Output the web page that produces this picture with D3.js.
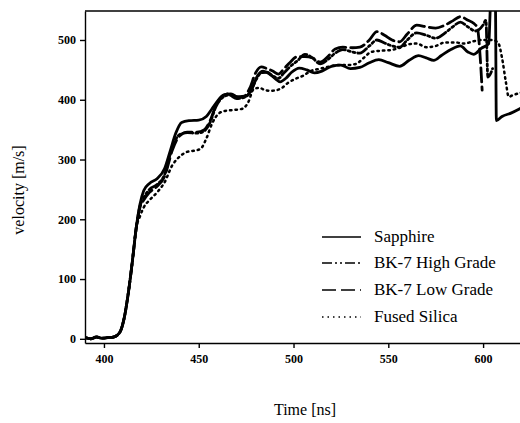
<!DOCTYPE html>
<html>
<head>
<meta charset="utf-8">
<script src="https://cdn.jsdelivr.net/npm/d3@7"></script>
<style>
  body { margin: 0; background: #fff; }
  text { font-family: "Liberation Serif", "Times New Roman", serif; fill: #000; }
</style>
</head>
<body>
<div id="viz"></div>
<script>
// time [ns] ticks and velocity [m/s] ticks
const xTicks = [400, 450, 500, 550, 600];
const yTicks = [0, 100, 200, 300, 400, 500];

const seriesNames = ['Sapphire', 'BK-7 High Grade', 'BK-7 Low Grade', 'Fused Silica'];

// shared start of every shot (before the curves split)
const rise = [[390, 2], [393, 0], [396, 3], [399, 1], [402, 2], [405, 3], [407, 6], [409, 15],
  [411, 40], [413, 80], [415, 130], [417, 185]];

const sapphire = [[419, 225], [421, 248], [424, 260], [428, 268], [432, 285], [435, 315], [438, 345],
  [441, 362], [445, 365], [450, 366], [454, 372], [457, 385], [460, 398], [463, 408], [467, 410],
  [471, 404], [475, 406], [478, 418], [481, 440], [484, 448], [487, 444], [490, 436], [493, 430],
  [496, 436], [499, 446], [503, 453], [507, 450], [511, 445], [515, 448], [520, 456], [525, 458],
  [530, 452], [535, 454], [540, 462], [545, 467], [550, 462], [556, 456], [561, 466], [566, 474],
  [570, 470], [574, 466], [578, 474], [583, 484], [588, 490], [592, 480], [595, 476], [599, 486],
  [603, 494], [604, 560], [606.5, 560], [607, 365], [610, 372], [615, 378], [620, 386]];

const bk7High = [[419, 222], [421, 236], [424, 250], [428, 258], [432, 275], [436, 320], [440, 342],
  [444, 345], [449, 344], [453, 348], [456, 362], [459, 388], [462, 402], [466, 408], [470, 402],
  [474, 404], [477, 412], [480, 432], [483, 445], [486, 446], [489, 440], [492, 436], [495, 445],
  [498, 455], [502, 465], [506, 476], [510, 470], [514, 460], [518, 467], [522, 478], [526, 484],
  [531, 480], [535, 478], [540, 490], [544, 500], [548, 495], [552, 490], [556, 488], [560, 500],
  [565, 512], [570, 508], [575, 503], [580, 512], [584, 522], [588, 530], [592, 522], [596, 515],
  [600, 525], [601.5, 533], [602.5, 438], [605, 452]];

const bk7Low = [[419, 220], [421, 232], [424, 245], [428, 255], [432, 272], [436, 315], [440, 340],
  [444, 346], [449, 346], [453, 350], [456, 365], [459, 390], [462, 405], [466, 410], [470, 405],
  [474, 406], [477, 420], [480, 445], [483, 455], [486, 452], [489, 448], [492, 443], [495, 452],
  [498, 462], [502, 472], [506, 472], [510, 470], [514, 463], [518, 472], [522, 485], [526, 488],
  [531, 487], [535, 488], [540, 500], [544, 514], [548, 508], [552, 500], [556, 497], [560, 510],
  [565, 525], [570, 522], [575, 520], [580, 525], [584, 532], [588, 539], [592, 533], [595, 528],
  [597, 520], [598.5, 470], [599.5, 416]];

const fusedSilica = [[419, 205], [421, 220], [424, 232], [428, 245], [432, 262], [436, 290], [440, 305],
  [444, 313], [448, 315], [451, 318], [454, 335], [457, 360], [461, 378], [465, 382], [469, 383],
  [473, 385], [476, 395], [479, 418], [482, 420], [485, 416], [488, 415], [491, 416], [494, 420],
  [497, 428], [501, 435], [505, 440], [509, 448], [514, 452], [518, 455], [523, 458], [528, 458],
  [533, 460], [537, 470], [541, 480], [546, 482], [551, 483], [556, 487], [561, 493], [565, 494],
  [570, 488], [575, 490], [580, 496], [585, 496], [590, 494], [595, 498], [600, 500], [605, 500],
  [608, 495], [610, 470], [612, 430], [613.5, 405], [616, 408], [620, 412]];

const w = 520;
const h = 423;
const svg = d3.select('#viz').
append('svg').
attr('width', w).
attr('height', h);

const xScale = d3.scaleLinear().
domain([390, 620]).
range([85, 521]);

const yScale = d3.scaleLinear().
domain([-7, 548.5]).
range([343, 11]);

svg.append('clipPath').
attr('id', 'plot').
append('rect').
attr('x', 85).
attr('y', 11).
attr('width', 436).
attr('height', 332);

const line = d3.line().
x(d => xScale(d[0])).
y(d => yScale(d[1])).
curve(d3.curveMonotoneX);

const styles = [
  { data: rise.concat(sapphire), dash: null, width: 2.8 },
  { data: rise.concat(bk7High), dash: '10,3,2,3,2,3', width: 2.8 },
  { data: rise.concat(bk7Low), dash: '14,5', width: 2.8 },
  { data: rise.concat(fusedSilica), dash: '1.5,4', width: 2.5 }
];

svg.append('g').
attr('clip-path', 'url(#plot)').
selectAll('path').
data(styles.slice().reverse()).
enter().
append('path').
attr('d', d => line(d.data)).
attr('fill', 'none').
attr('stroke', '#000').
attr('stroke-width', d => d.width).
attr('stroke-linecap', 'round').
attr('stroke-dasharray', d => d.dash);

// axes
const xAxis = d3.axisBottom(xScale).
tickValues(xTicks).
tickSize(5).
tickSizeOuter(0).
tickPadding(6);

svg.append('g').
attr('transform', 'translate(0,343)').
call(xAxis).
call(g => g.selectAll('text').style('font-size', '12px').style('font-weight', 'bold').style('font-family', '"Liberation Serif", serif')).
call(g => g.selectAll('path,line').attr('stroke', '#000').attr('stroke-width', 1.4));

const yAxis = d3.axisLeft(yScale).
tickValues(yTicks).
tickSize(5).
tickSizeOuter(0).
tickPadding(4);

svg.append('g').
attr('transform', 'translate(85,0)').
call(yAxis).
call(g => g.selectAll('text').style('font-size', '12px').style('font-weight', 'bold').style('font-family', '"Liberation Serif", serif')).
call(g => g.selectAll('path,line').attr('stroke', '#000').attr('stroke-width', 1.4));

// top frame
svg.append('line').
attr('x1', 85).
attr('x2', 521).
attr('y1', 11).
attr('y2', 11).
attr('stroke', '#000').
attr('stroke-width', 1.6);

// axis titles
svg.append('text').
attr('x', 305).
attr('y', 415).
attr('text-anchor', 'middle').
style('font-size', '16px').
text('Time [ns]');

svg.append('text').
attr('transform', 'translate(24,190) rotate(-90)').
attr('text-anchor', 'middle').
style('font-size', '16px').
text('velocity [m/s]');

// legend
const legend = svg.append('g').
selectAll('g').
data(styles).
enter().
append('g').
attr('transform', (d, i) => 'translate(322,' + [237, 263, 290, 317][i] + ')');

legend.append('line').
attr('x1', 0).
attr('x2', 39).
attr('stroke', '#000').
attr('stroke-width', 1.6).
attr('stroke-dasharray', d => d.dash);

legend.append('text').
attr('x', 52).
attr('y', 5).
style('font-size', '17px').
text((d, i) => seriesNames[i]);
</script>
</body>
</html>
